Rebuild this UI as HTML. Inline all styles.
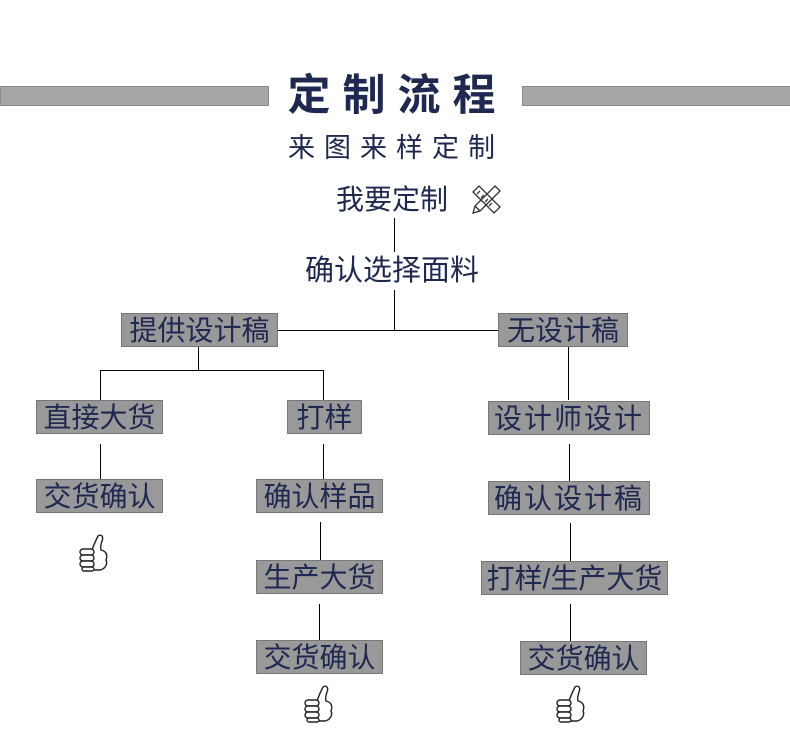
<!DOCTYPE html>
<html><head><meta charset="utf-8"><style>
body{margin:0;width:790px;height:742px;background:#fff;position:relative;overflow:hidden;font-family:"Liberation Sans","Noto Sans CJK SC",sans-serif;color:#1f2850}
.a{position:absolute}
.bar{position:absolute;background:#a6a6a6;border:1px solid #8a8a8a;height:18px;top:86px}
.box{position:absolute;background:#999;border:1px solid #777;box-sizing:border-box;height:34px;font-size:28px;line-height:34px;text-align:center;white-space:nowrap;letter-spacing:0}
.v{position:absolute;width:1px;background:#000}
.h{position:absolute;height:1px;background:#000}
.t{position:absolute;white-space:nowrap;text-align:center}
</style></head><body>
<div class="bar" style="left:0;width:267px"></div>
<div class="bar" style="left:522px;width:267px"></div>
<div class="t" style="left:280px;width:235px;top:68px;font-size:43px;font-weight:bold;letter-spacing:12px;line-height:56px">定制流程</div>
<div class="t" style="left:285px;width:222px;top:130px;font-size:27px;letter-spacing:9px;line-height:36px">来图来样定制</div>
<div class="t" style="left:336px;top:182px;font-size:28px;line-height:36px">我要定制</div>
<svg class="a" style="left:469px;top:182px" width="34" height="34" viewBox="0 0 34 34" fill="none" stroke="#333" stroke-width="1.3">
<path d="M4 10 L10 4 L31 25 L25 31 Z"/><path d="M8 12 l3 -3 M12 16 l3 -3 M16 20 l3 -3 M20 24 l3 -3"/>
<path d="M26 4 L31 9 L11 29 L4 31 L6 24 Z"/><path d="M6 24 L11 29"/></svg>
<div class="v" style="left:394px;top:218px;height:34px"></div>
<div class="t" style="left:305px;top:253px;font-size:29px;line-height:36px">确认选择面料</div>
<div class="v" style="left:394px;top:290px;height:40px"></div>
<div class="h" style="left:278px;top:330px;width:220px"></div>
<div class="box" style="left:121px;top:313px;width:157px">提供设计稿</div>
<div class="box" style="left:498px;top:313px;width:130px">无设计稿</div>
<div class="v" style="left:198px;top:347px;height:23px"></div>
<div class="h" style="left:100px;top:370px;width:224px"></div>
<div class="v" style="left:100px;top:370px;height:30px"></div>
<div class="v" style="left:323px;top:370px;height:30px"></div>
<div class="box" style="left:36px;top:400px;width:127px">直接大货</div>
<div class="box" style="left:287px;top:400px;width:75px">打样</div>
<div class="v" style="left:100px;top:444px;height:35px"></div>
<div class="box" style="left:36px;top:479px;width:127px">交货确认</div>
<div class="v" style="left:323px;top:444px;height:35px"></div>
<div class="box" style="left:256px;top:479px;width:127px">确认样品</div>
<div class="v" style="left:320px;top:522px;height:38px"></div>
<div class="box" style="left:256px;top:560px;width:127px">生产大货</div>
<div class="v" style="left:319px;top:604px;height:36px"></div>
<div class="box" style="left:256px;top:640px;width:127px">交货确认</div>
<div class="v" style="left:568px;top:347px;height:53px"></div>
<div class="box" style="left:488px;top:401px;width:162px;letter-spacing:2px">设计师设计</div>
<div class="v" style="left:569px;top:444px;height:37px"></div>
<div class="box" style="left:488px;top:481px;width:162px;letter-spacing:2px">确认设计稿</div>
<div class="v" style="left:570px;top:523px;height:38px"></div>
<div class="box" style="left:481px;top:561px;width:187px">打样/生产大货</div>
<div class="v" style="left:570px;top:604px;height:37px"></div>
<div class="box" style="left:520px;top:641px;width:127px">交货确认</div>
<svg width="0" height="0" style="position:absolute"><defs><g id="th" fill="#fff" stroke="#222" stroke-width="1.4">
<path d="M14 18 C16 12 18 8 20 4 C23 2 26 4 24 9 C23 12 22 15 23 18 C28 19 30 23 28 28 C30 32 27 37 22 38 L12 38 Z"/>
<rect x="2" y="17" width="14" height="6" rx="3"/><rect x="2" y="23" width="14" height="6" rx="3"/><rect x="2" y="29" width="14" height="6" rx="3"/><rect x="4" y="35" width="12" height="4" rx="2"/></g></defs></svg>
<svg class="a" style="left:78px;top:532px" width="34" height="42"><use href="#th"/></svg>
<svg class="a" style="left:303px;top:683px" width="34" height="42"><use href="#th"/></svg>
<svg class="a" style="left:555px;top:683px" width="34" height="42"><use href="#th"/></svg>
</body></html>
